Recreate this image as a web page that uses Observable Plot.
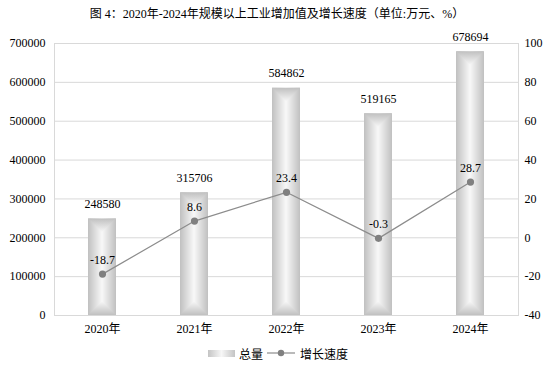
<!DOCTYPE html>
<html><head><meta charset="utf-8">
<script src="https://cdn.jsdelivr.net/npm/d3@7"></script>
<script src="https://cdn.jsdelivr.net/npm/@observablehq/plot@0.6"></script>
<style>
body{margin:0;background:#fff;font-family:"Liberation Serif","Noto Sans CJK SC",serif;}
#title{height:28px;line-height:28px;text-align:center;font-size:12px;color:#000;}
#legend{display:flex;justify-content:center;align-items:center;height:30px;font-family:"Noto Sans CJK SC",sans-serif;font-size:12px;color:#000;padding-left:2px;}
#legend .sw{width:27px;height:7px;background:linear-gradient(to right,#c4c4c4,#f7f7f7,#c4c4c4);margin-right:4px;}
</style></head><body>
<div id="title">图 4：2020年-2024年规模以上工业增加值及增长速度（单位:万元、%）</div>
<div id="chart"></div>
<div id="legend"><span class="sw"></span><span>总量</span><svg width="30" height="10" style="margin:0 3px 0 4px"><line x1="0" y1="5" x2="28" y2="5" stroke="#8c8c8c" stroke-width="1.2"/><circle cx="14" cy="5" r="3.2" fill="#808080"/></svg><span>增长速度</span></div>
<script>
const years = ["2020年","2021年","2022年","2023年","2024年"];
const totals = [248580, 315706, 584862, 519165, 678694];
const growth = [-18.7, 8.6, 23.4, -0.3, 28.7];
const leftTicks = [0,100000,200000,300000,400000,500000,600000,700000];
const rightTicks = [-40,-20,0,20,40,60,80,100];

const LMAX = 700000, RMIN = -40, RMAX = 100;
const toL = g => (g - RMIN) / (RMAX - RMIN) * LMAX;
const fromL = v => Math.round(v / LMAX * (RMAX - RMIN) + RMIN);

const data = years.map((y,i)=>({year:y,total:totals[i],growth:growth[i],gy:toL(growth[i])}));

const chart = Plot.plot({
  width: 554, height: 310,
  marginLeft: 54, marginRight: 36, marginTop: 15, marginBottom: 23,
  style: {fontFamily: '"Liberation Serif","Noto Sans CJK SC",serif', fontSize: "12px", color:"#000", background:"#fff"},
  x: {domain: years, paddingInner: 0.7, paddingOuter: 0.35, align: 0.5, label: null},
  y: {domain: [0, LMAX], label: null},
  marks: [
    Plot.gridY(leftTicks, {stroke: "#d9d9d9", strokeOpacity: 1}),
    Plot.frame({stroke: "#d9d9d9"}),
    Plot.barY(data, {x: "year", y: "total", fill: "url(#barGrad)", className: "bars"}),
    Plot.axisY({ticks: leftTicks, tickSize: 0, tickPadding: 9, tickFormat: d => String(d), label: null}),
    Plot.axisY({anchor: "right", ticks: rightTicks.map(toL), tickSize: 0, tickPadding: 6, tickFormat: fromL, label: null}),
    Plot.axisX({tickSize: 0, tickPadding: 9, label: null}),
    Plot.line(data, {x: "year", y: "gy", stroke: "#8c8c8c", strokeWidth: 1.2}),
    Plot.dot(data, {x: "year", y: "gy", r: 3.6, fill: "#808080", stroke: "none"}),
    Plot.text(data, {x: "year", y: "total", text: d => String(d.total), dy: -15, fill: "#000"}),
    Plot.text(data, {x: "year", y: "gy", text: d => String(d.growth), dy: -14, fill: "#000"})
  ]
});
document.getElementById("chart").appendChild(chart);

// gradient defs and rectangular "from center" caps
const svg = d3.select(chart);
const defs = svg.insert("defs", ":first-child");
const edge = "#c0c0c0", mid = "#f8f8f8";
const hg = defs.append("linearGradient").attr("id","barGrad").attr("x1",0).attr("x2",1).attr("y1",0).attr("y2",0);
hg.append("stop").attr("offset",0).attr("stop-color",edge);
hg.append("stop").attr("offset",0.5).attr("stop-color",mid);
hg.append("stop").attr("offset",1).attr("stop-color",edge);
const vt = defs.append("linearGradient").attr("id","capTop").attr("x1",0).attr("x2",0).attr("y1",0).attr("y2",1);
vt.append("stop").attr("offset",0).attr("stop-color",edge);
vt.append("stop").attr("offset",1).attr("stop-color",mid);
const vb = defs.append("linearGradient").attr("id","capBot").attr("x1",0).attr("x2",0).attr("y1",1).attr("y2",0);
vb.append("stop").attr("offset",0).attr("stop-color",edge);
vb.append("stop").attr("offset",1).attr("stop-color",mid);

svg.selectAll("g.bars rect, .bars rect").each(function(){
  const r = d3.select(this);
  const x = +r.attr("x"), y = +r.attr("y"), w = +r.attr("width"), h = +r.attr("height");
  const g = d3.select(this.parentNode);
  const hw = w/2;
  g.append("polygon").attr("points", `${x},${y} ${x+w},${y} ${x+hw},${y+hw}`).attr("fill","url(#capTop)");
  g.append("polygon").attr("points", `${x},${y+h} ${x+w},${y+h} ${x+hw},${y+h-hw}`).attr("fill","url(#capBot)");
});
</script>
</body></html>
